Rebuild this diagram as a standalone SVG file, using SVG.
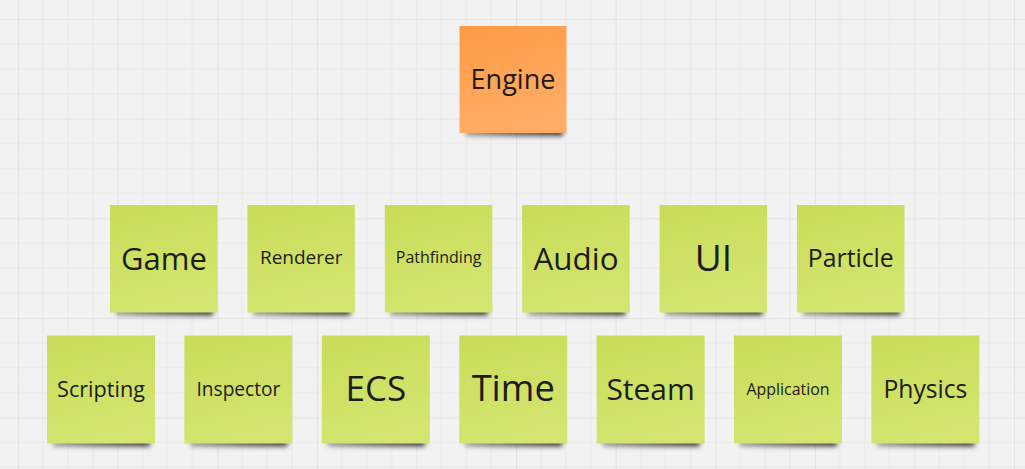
<svg xmlns="http://www.w3.org/2000/svg" width="1025" height="469" viewBox="0 0 1025 469">
<defs>
<pattern id="grid" patternUnits="userSpaceOnUse" x="18.1" y="19.1" width="99.6" height="99.6">
<rect width="99.6" height="99.6" fill="#f2f2f2"/>
<path d="M24.9 0V99.6M49.8 0V99.6M74.7 0V99.6M0 24.9H99.6M0 49.8H99.6M0 74.7H99.6" stroke="#e8e8e8" stroke-width="1" fill="none"/>
<path d="M0 0V99.6M0 0H99.6" stroke="#dedede" stroke-width="1.6" fill="none"/>
</pattern>
<linearGradient id="gGreen" x1="0" y1="0" x2="0.25" y2="1">
<stop offset="0" stop-color="#c8dc58"/>
<stop offset="1" stop-color="#d3e56f"/>
</linearGradient>
<linearGradient id="gOrange" x1="0" y1="0" x2="0.25" y2="1">
<stop offset="0" stop-color="#ff9a45"/>
<stop offset="1" stop-color="#ffad65"/>
</linearGradient>
<linearGradient id="gShadow" x1="0" y1="0" x2="1" y2="0">
<stop offset="0" stop-color="#000" stop-opacity="0.35"/>
<stop offset="0.5" stop-color="#000" stop-opacity="0.6"/>
<stop offset="1" stop-color="#000" stop-opacity="0.75"/>
</linearGradient>
<filter id="blur" x="-30%" y="-100%" width="160%" height="300%">
<feGaussianBlur stdDeviation="2.6"/>
</filter>
</defs>
<style>
.shadow{fill:url(#gShadow);filter:url(#blur)}
.green{fill:url(#gGreen)}
.orange{fill:url(#gOrange)}
text{font-family:"Open Sans","Noto Sans","DejaVu Sans",sans-serif;fill:#1c1c1c;text-anchor:middle}
</style>
<rect width="1025" height="469" fill="url(#grid)"/>
<g id="connectors"/>
<g id="engine"><rect class="shadow" x="466" y="126" width="97" height="10"/><rect class="orange" x="459.5" y="26" width="107" height="107"/><text x="513" y="89" font-size="27">Engine</text></g>
<g id="game"><rect class="shadow" x="116" y="305.5" width="97" height="10"/><rect class="green" x="110" y="205" width="107.5" height="107.5"/><text x="164" y="269.5" font-size="31">Game</text></g>
<g id="renderer"><rect class="shadow" x="253.4" y="305.5" width="97" height="10"/><rect class="green" x="247.4" y="205" width="107.5" height="107.5"/><text x="301.2" y="264" font-size="19">Renderer</text></g>
<g id="pathfinding"><rect class="shadow" x="390.8" y="305.5" width="97" height="10"/><rect class="green" x="384.8" y="205" width="107.5" height="107.5"/><text x="438.6" y="263" font-size="16">Pathfinding</text></g>
<g id="audio"><rect class="shadow" x="528.2" y="305.5" width="97" height="10"/><rect class="green" x="522.2" y="205" width="107.5" height="107.5"/><text x="576" y="269.5" font-size="31.4">Audio</text></g>
<g id="ui"><rect class="shadow" x="665.6" y="305.5" width="97" height="10"/><rect class="green" x="659.6" y="205" width="107.5" height="107.5"/><text x="713.4" y="271" font-size="37">UI</text></g>
<g id="particle"><rect class="shadow" x="803" y="305.5" width="97" height="10"/><rect class="green" x="797" y="205" width="107.5" height="107.5"/><text x="850.8" y="267" font-size="24.8">Particle</text></g>
<g id="scripting"><rect class="shadow" x="53" y="436.5" width="97" height="10"/><rect class="green" x="47" y="335.5" width="108" height="108"/><text x="101" y="396.5" font-size="21.6">Scripting</text></g>
<g id="inspector"><rect class="shadow" x="190.4" y="436.5" width="97" height="10"/><rect class="green" x="184.4" y="335.5" width="108" height="108"/><text x="238.4" y="395.5" font-size="19.1">Inspector</text></g>
<g id="ecs"><rect class="shadow" x="327.8" y="436.5" width="97" height="10"/><rect class="green" x="321.8" y="335.5" width="108" height="108"/><text x="375.8" y="401" font-size="35">ECS</text></g>
<g id="time"><rect class="shadow" x="465.2" y="436.5" width="97" height="10"/><rect class="green" x="459.2" y="335.5" width="108" height="108"/><text x="513.2" y="401" font-size="36.3">Time</text></g>
<g id="steam"><rect class="shadow" x="602.6" y="436.5" width="97" height="10"/><rect class="green" x="596.6" y="335.5" width="108" height="108"/><text x="650.6" y="399.5" font-size="30">Steam</text></g>
<g id="application"><rect class="shadow" x="740" y="436.5" width="97" height="10"/><rect class="green" x="734" y="335.5" width="108" height="108"/><text x="788" y="394.5" font-size="15.9">Application</text></g>
<g id="physics"><rect class="shadow" x="877.4" y="436.5" width="97" height="10"/><rect class="green" x="871.4" y="335.5" width="108" height="108"/><text x="925.4" y="397.5" font-size="24.7">Physics</text></g>
</svg>
